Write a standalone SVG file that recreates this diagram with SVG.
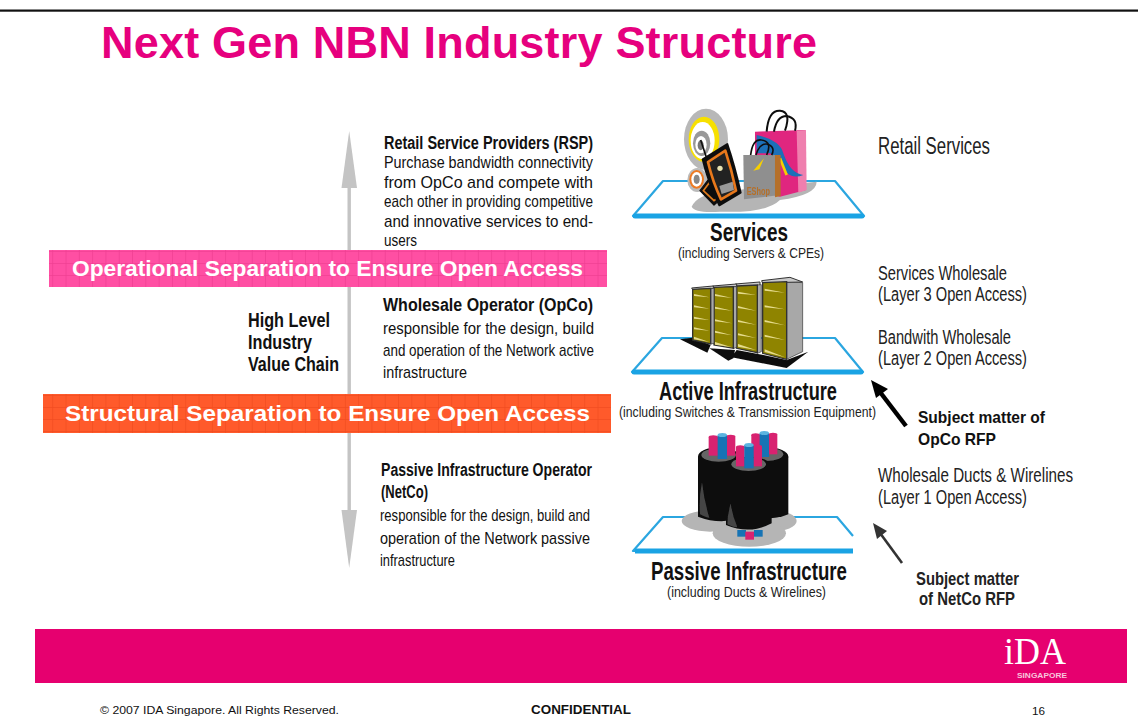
<svg xmlns="http://www.w3.org/2000/svg" width="1138" height="717" viewBox="0 0 1138 717">
<style>
text{font-family:"Liberation Sans",Arial,sans-serif;fill:#111}
.b{font-weight:bold}
.body{font-size:17px}
.head{font-size:18px;font-weight:bold}
.side{font-size:20px;fill:#222}
.sub{font-size:15px;fill:#222}
.cap{font-weight:bold;font-size:25px}
.band{font-weight:bold;fill:#fff;font-size:22px}
.plat{fill:none;stroke:#2ba6e0;stroke-width:2.2;stroke-linejoin:round}
.bar{stroke:#1aa3e4;stroke-width:5;stroke-linecap:round}
.rack{fill:#8f8400;stroke:#333;stroke-width:4}
.side3{fill:#a8a8a8;stroke:#333;stroke-width:2}
.top3{fill:#c9c9c9;stroke:#333;stroke-width:3}
.st{fill:#e6dc8c}
.sh{fill:#111}
.blk{fill:#0a0a0a}
.pk{fill:#d8216f}
.bl{fill:#1273b5}
.gy{fill:#b5b5b5}
</style>
<defs>
<filter id="soft" x="-5%" y="-5%" width="110%" height="110%"><feGaussianBlur stdDeviation="1.2"/></filter>
<pattern id="gridP" width="13.3" height="12" patternUnits="userSpaceOnUse"><rect width="13.3" height="12" fill="#ff4fa3"/><path d="M13 0V12M0 11.7H13.3" stroke="#ee3d90" stroke-width="0.8"/></pattern>
<pattern id="gridO" width="13.3" height="12" patternUnits="userSpaceOnUse"><rect width="13.3" height="12" fill="#ff5a2b"/><path d="M13 0V12M0 11.7H13.3" stroke="#ef4a1e" stroke-width="0.8"/></pattern>
</defs>
<rect width="1138" height="717" fill="#fff"/>
<rect x="0" y="9.5" width="1138" height="2.2" fill="#111"/>
<text class="b" x="101" y="58" font-size="45" textLength="716" style="fill:#e6007e">Next Gen NBN Industry Structure</text>

<g id="connectors">
<g id="value-chain-arrow" fill="#c4c4c4">
<rect x="347.5" y="186" width="3.4" height="326"/>
<polygon points="349.2,131 357,188 341.5,188"/>
<polygon points="341.5,510 357,510 349.2,568"/>
</g>
<g id="opco-arrow">
<line x1="906" y1="426" x2="880" y2="392" stroke="#000" stroke-width="4.5"/>
<polygon points="871,380 888,389 876,398" fill="#000"/>
</g>
<g id="netco-arrow">
<line x1="902" y1="563" x2="880" y2="533" stroke="#333" stroke-width="2.6"/>
<polygon points="873,523 887,531 877,539" fill="#333"/>
</g>
</g>

<g id="band-operational">
<rect x="49" y="250" width="558" height="37" fill="url(#gridP)"/>
<text class="band" x="72" y="276" textLength="511" lengthAdjust="spacingAndGlyphs" style="fill:#fff">Operational Separation to Ensure Open Access</text>
</g>
<g id="band-structural">
<rect x="43" y="394" width="568" height="39" fill="url(#gridO)"/>
<text class="band" x="65" y="421" textLength="525" lengthAdjust="spacingAndGlyphs" style="fill:#fff">Structural Separation to Ensure Open Access</text>
</g>

<g id="value-chain-label">
<text class="b" font-size="21" x="248" y="327" textLength="82" lengthAdjust="spacingAndGlyphs">High Level</text>
<text class="b" font-size="21" x="248" y="349" textLength="64" lengthAdjust="spacingAndGlyphs">Industry</text>
<text class="b" font-size="21" x="248" y="371" textLength="91" lengthAdjust="spacingAndGlyphs">Value Chain</text>
</g>

<g id="rsp-text">
<text class="head" x="384" y="149" textLength="209" lengthAdjust="spacingAndGlyphs">Retail Service Providers (RSP)</text>
<text class="body" x="384" y="168" textLength="209" lengthAdjust="spacingAndGlyphs">Purchase bandwidth connectivity</text>
<text class="body" x="384" y="188" textLength="209" lengthAdjust="spacingAndGlyphs">from OpCo and compete with</text>
<text class="body" x="384" y="207" textLength="209" lengthAdjust="spacingAndGlyphs">each other in providing competitive</text>
<text class="body" x="384" y="227" textLength="209" lengthAdjust="spacingAndGlyphs">and innovative services to end-</text>
<text class="body" x="384" y="246" textLength="33" lengthAdjust="spacingAndGlyphs">users</text>
</g>
<g id="opco-text">
<text class="head" x="383" y="311" textLength="210" lengthAdjust="spacingAndGlyphs">Wholesale Operator (OpCo)</text>
<text class="body" x="383" y="334" textLength="211" lengthAdjust="spacingAndGlyphs">responsible for the design, build</text>
<text class="body" x="383" y="356" textLength="211" lengthAdjust="spacingAndGlyphs">and operation of the Network active</text>
<text class="body" x="383" y="378" textLength="84" lengthAdjust="spacingAndGlyphs">infrastructure</text>
</g>
<g id="netco-text">
<text class="head" x="381" y="476" textLength="211" lengthAdjust="spacingAndGlyphs">Passive Infrastructure Operator</text>
<text class="head" x="381" y="498" textLength="47" lengthAdjust="spacingAndGlyphs">(NetCo)</text>
<text class="body" x="380" y="521" textLength="210" lengthAdjust="spacingAndGlyphs">responsible for the design, build and</text>
<text class="body" x="380" y="544" textLength="210" lengthAdjust="spacingAndGlyphs">operation of the Network passive</text>
<text class="body" x="380" y="566" textLength="75" lengthAdjust="spacingAndGlyphs">infrastructure</text>
</g>

<g id="services">
<polygon class="plat" points="663,181 835,181 864,216 633,216"/>
<line class="bar" x1="635" y1="216" x2="862" y2="216"/>
<g transform="translate(620 100) scale(.3333)">
<g filter="url(#soft)">
<path class="gy" d="M215 320Q230 285 300 275L590 245Q590 285 480 300Q440 340 300 335Q225 340 215 320Z"/>
<ellipse cx="258" cy="118" rx="66" ry="92" fill="#b8b8b8"/>
<ellipse cx="252" cy="118" rx="46" ry="68" fill="#f7e000"/>
<ellipse cx="248" cy="122" rx="36" ry="56" fill="#fff"/>
<ellipse cx="245" cy="130" rx="26" ry="38" fill="#999"/>
<ellipse cx="243" cy="134" rx="17" ry="26" fill="#fff"/>
<ellipse cx="242" cy="136" rx="9" ry="15" fill="#777"/>
<ellipse cx="232" cy="240" rx="30" ry="36" fill="#bbb"/>
<ellipse cx="230" cy="238" rx="22" ry="28" fill="#ee7a22"/>
<ellipse cx="230" cy="238" rx="16" ry="22" fill="#fff"/>
<ellipse cx="230" cy="238" rx="9" ry="14" fill="#888"/>
<path d="M405 95L555 90 558 270 480 290 405 270Z" fill="#e0267f"/>
<path d="M530 92L558 90 560 270 535 278Z" fill="#ef7fae"/>
<path d="M410 105Q480 120 490 160 510 220 550 225 500 245 480 180L450 160 410 160Z" fill="#1c6fb8"/>
<path d="M480 175Q490 200 500 225" stroke="#f7d000" stroke-width="8" fill="none"/>
<path d="M440 95Q445 30 480 32 515 35 495 92" fill="none" stroke="#111" stroke-width="6"/>
<path d="M462 95Q470 48 500 48 535 55 525 92" fill="none" stroke="#111" stroke-width="6"/>
<path d="M370 165L480 165 480 285 372 298Z" fill="#8f8f8f"/>
<path d="M465 165L482 165 482 288 465 292Z" fill="#b5702a"/>
<path d="M400 212L432 175 418 208Z" fill="#f7d000"/>
<text x="380" y="285" font-size="34" class="b" textLength="70" lengthAdjust="spacingAndGlyphs" style="fill:#b5702a">EShop</text>
<path d="M392 165Q398 115 425 120 458 125 440 165" fill="none" stroke="#111" stroke-width="5"/>
<path d="M408 165Q418 130 440 132 468 140 455 165" fill="none" stroke="#111" stroke-width="5"/>
<path d="M240 272L268 235 310 290 282 315Z" fill="#111" stroke="#111" stroke-width="4" stroke-linejoin="round"/>
<path d="M250 272L268 248 298 290 282 302Z" fill="none" stroke="#e07a1a" stroke-width="5"/>
<line x1="260" y1="175" x2="242" y2="120" stroke="#111" stroke-width="5"/>
<path d="M248 178L322 132Q345 200 362 278L298 316Q265 250 248 178Z" fill="#111" stroke="#111" stroke-width="6" stroke-linejoin="round"/>
<path d="M264 186L316 152Q335 210 348 272L303 298Q278 245 264 186Z" fill="#222" stroke="#e8781a" stroke-width="8" stroke-linejoin="round"/>
<circle cx="300" cy="205" r="8" fill="#e8e2b0"/>
<path d="M298 258L338 245 342 270 305 282Z" fill="#999"/>
</g>
</g>
<text class="cap" x="710" y="241" textLength="78" lengthAdjust="spacingAndGlyphs">Services</text>
<text class="sub" x="678" y="258" textLength="146" lengthAdjust="spacingAndGlyphs">(including Servers &amp; CPEs)</text>
</g>

<g id="active-infrastructure">
<polygon class="plat" points="662,338 835,338 863,372 632,372"/>
<line class="bar" x1="634" y1="372" x2="861" y2="372"/>
<g transform="translate(620 270) scale(.3333)">
<g filter="url(#soft)">
<path class="sh" d="M180 208L218 203 272 225 262 248ZM268 235L345 240 340 265 325 272ZM335 262L350 240 430 255 500 270 565 245 500 294Z"/>
<path class="side3" d="M500 35L548 38 548 245 500 268Z"/>
<path class="top3" d="M425 32L510 22 548 36 500 37 428 40Z"/>
<path class="rack" d="M428 38L500 35 500 268 428 250Z"/>
<path class="top3" d="M346 42L420 36 420 46 350 50Z"/>
<path class="side3" d="M412 45L424 44 424 245 412 250Z"/>
<path class="rack" d="M350 48L412 45 412 248 350 235Z"/>
<path class="top3" d="M278 48L350 42 350 50 282 54Z"/>
<path class="side3" d="M340 50L350 50 350 232 340 236Z"/>
<path class="rack" d="M282 52L340 50 340 235 282 225Z"/>
<path class="top3" d="M215 54L280 48 280 56 218 59Z"/>
<path class="side3" d="M272 56L282 55 282 220 272 222Z"/>
<path class="rack" d="M218 58L272 55 272 222 218 210Z"/>
<path class="st" d="M222 72L268 82 222 78ZM222 106L268 116 222 112ZM222 140L268 150 222 146ZM222 172L268 182 222 178ZM222 200L268 216 222 208Z"/>
<path class="st" d="M285 72L336 84 285 78ZM285 110L336 122 285 116ZM285 148L336 160 285 154ZM285 182L336 196 285 188ZM285 216L336 232 285 224Z"/>
<path class="st" d="M354 65L408 75 354 71ZM354 108L408 122 354 114ZM354 150L408 164 354 156ZM354 190L408 204 354 196ZM354 222L408 240 354 230Z"/>
<path class="st" d="M434 56L495 68 434 62ZM434 106L495 118 434 112ZM434 150L495 166 434 156ZM434 194L495 210 434 200ZM434 238L495 262 434 246Z"/>
</g>
</g>
<text class="cap" x="659" y="400" textLength="178" lengthAdjust="spacingAndGlyphs">Active Infrastructure</text>
<text class="sub" x="619" y="417" textLength="257" lengthAdjust="spacingAndGlyphs">(including Switches &amp; Transmission Equipment)</text>
</g>

<g id="passive-infrastructure">
<path class="plat" d="M853 536L837 517H663L633 551H853"/>
<line class="bar" x1="635" y1="551" x2="853" y2="551" style="stroke-linecap:butt"/>
<g transform="translate(620 425) scale(.3333)">
<g filter="url(#soft)">
<ellipse cx="270" cy="288" rx="85" ry="32" fill="#b5b5b5"/>
<ellipse cx="455" cy="288" rx="75" ry="32" fill="#b5b5b5"/>
<ellipse cx="388" cy="325" rx="110" ry="40" fill="#b5b5b5"/>
<rect x="352" y="315" width="26" height="20" class="bl"/>
<rect x="376" y="320" width="26" height="24" class="pk"/>
<rect x="402" y="315" width="26" height="20" class="bl"/>
<path class="blk" d="M234 95H358V280Q300 300 234 275Z"/>
<ellipse class="blk" cx="296" cy="95" rx="62" ry="28"/>
<ellipse cx="296" cy="90" rx="52" ry="20" fill="#666"/>
<rect class="pk" x="266" y="36" width="28" height="56"/><ellipse class="pk" cx="280" cy="36" rx="14" ry="5"/>
<rect class="pk" x="318" y="34" width="28" height="58"/><ellipse class="pk" cx="332" cy="34" rx="14" ry="5"/>
<rect class="bl" x="293" y="30" width="28" height="72"/><ellipse cx="307" cy="30" rx="14" ry="6" fill="#5cb4e0"/>
<path d="M246 170Q236 220 240 268 262 280 268 278Q252 225 246 170Z" fill="#444"/>
<path class="blk" d="M375 95H505V268Q450 290 375 275Z"/>
<ellipse class="blk" cx="440" cy="95" rx="65" ry="28"/>
<ellipse cx="440" cy="88" rx="50" ry="20" fill="#666"/>
<rect class="pk" x="394" y="30" width="26" height="58"/><ellipse class="pk" cx="407" cy="30" rx="13" ry="5"/>
<rect class="pk" x="446" y="28" width="26" height="60"/><ellipse class="pk" cx="459" cy="28" rx="13" ry="5"/>
<rect class="bl" x="419" y="24" width="28" height="72"/><ellipse cx="433" cy="24" rx="14" ry="6" fill="#5cb4e0"/>
<path class="blk" d="M318 125H455V295Q390 330 318 300Z"/>
<ellipse class="blk" cx="386" cy="125" rx="68" ry="30"/>
<ellipse cx="386" cy="118" rx="52" ry="20" fill="#666"/>
<rect class="pk" x="348" y="66" width="26" height="58"/><ellipse class="pk" cx="361" cy="66" rx="13" ry="5"/>
<rect class="pk" x="400" y="64" width="26" height="60"/><ellipse class="pk" cx="413" cy="64" rx="13" ry="5"/>
<rect class="bl" x="373" y="60" width="28" height="70"/><ellipse cx="387" cy="60" rx="14" ry="6" fill="#5cb4e0"/>
<path d="M332 235Q322 270 322 298 345 310 352 306Q338 275 332 235Z" fill="#444"/>
</g>
</g>
<text class="cap" x="651" y="580" textLength="196" lengthAdjust="spacingAndGlyphs">Passive Infrastructure</text>
<text class="sub" x="667" y="597" textLength="159" lengthAdjust="spacingAndGlyphs">(including Ducts &amp; Wirelines)</text>
</g>

<g id="right-labels">
<text class="side" x="878" y="154" textLength="112" lengthAdjust="spacingAndGlyphs" style="font-size:23px">Retail Services</text>
<text class="side" x="878" y="280" textLength="129" lengthAdjust="spacingAndGlyphs">Services Wholesale</text>
<text class="side" x="878" y="301" textLength="149" lengthAdjust="spacingAndGlyphs">(Layer 3 Open Access)</text>
<text class="side" x="878" y="344" textLength="133" lengthAdjust="spacingAndGlyphs">Bandwith Wholesale</text>
<text class="side" x="878" y="365" textLength="149" lengthAdjust="spacingAndGlyphs">(Layer 2 Open Access)</text>
<text class="side" x="878" y="482" textLength="195" lengthAdjust="spacingAndGlyphs">Wholesale Ducts &amp; Wirelines</text>
<text class="side" x="878" y="504" textLength="149" lengthAdjust="spacingAndGlyphs">(Layer 1 Open Access)</text>
</g>
<g id="opco-rfp">
<text class="b" font-size="17" x="918" y="423" textLength="127" lengthAdjust="spacingAndGlyphs">Subject matter of</text>
<text class="b" font-size="17" x="918" y="445" textLength="78" lengthAdjust="spacingAndGlyphs">OpCo RFP</text>
</g>
<g id="netco-rfp">
<text class="b" font-size="19" x="916" y="585" textLength="103" lengthAdjust="spacingAndGlyphs" style="fill:#222">Subject matter</text>
<text class="b" font-size="19" x="919" y="605" textLength="96" lengthAdjust="spacingAndGlyphs" style="fill:#222">of NetCo RFP</text>
</g>

<g id="footer">
<rect x="35" y="629" width="1092" height="54" fill="#e6006f"/>
<text x="1004" y="664" font-size="38" textLength="62" lengthAdjust="spacingAndGlyphs" style="fill:#fff;font-family:'Liberation Serif',serif">iDA</text>
<text x="1017" y="678" font-size="6.4" class="b" textLength="50" lengthAdjust="spacingAndGlyphs" style="fill:#f7c6dd">SINGAPORE</text>
<text x="100" y="714" font-size="11.5" textLength="239" lengthAdjust="spacingAndGlyphs">© 2007 IDA Singapore. All Rights Reserved.</text>
<text class="b" x="531" y="714" font-size="12" textLength="100" lengthAdjust="spacingAndGlyphs">CONFIDENTIAL</text>
<text x="1032" y="714.5" font-size="10" textLength="13" lengthAdjust="spacingAndGlyphs">16</text>
</g>
</svg>
